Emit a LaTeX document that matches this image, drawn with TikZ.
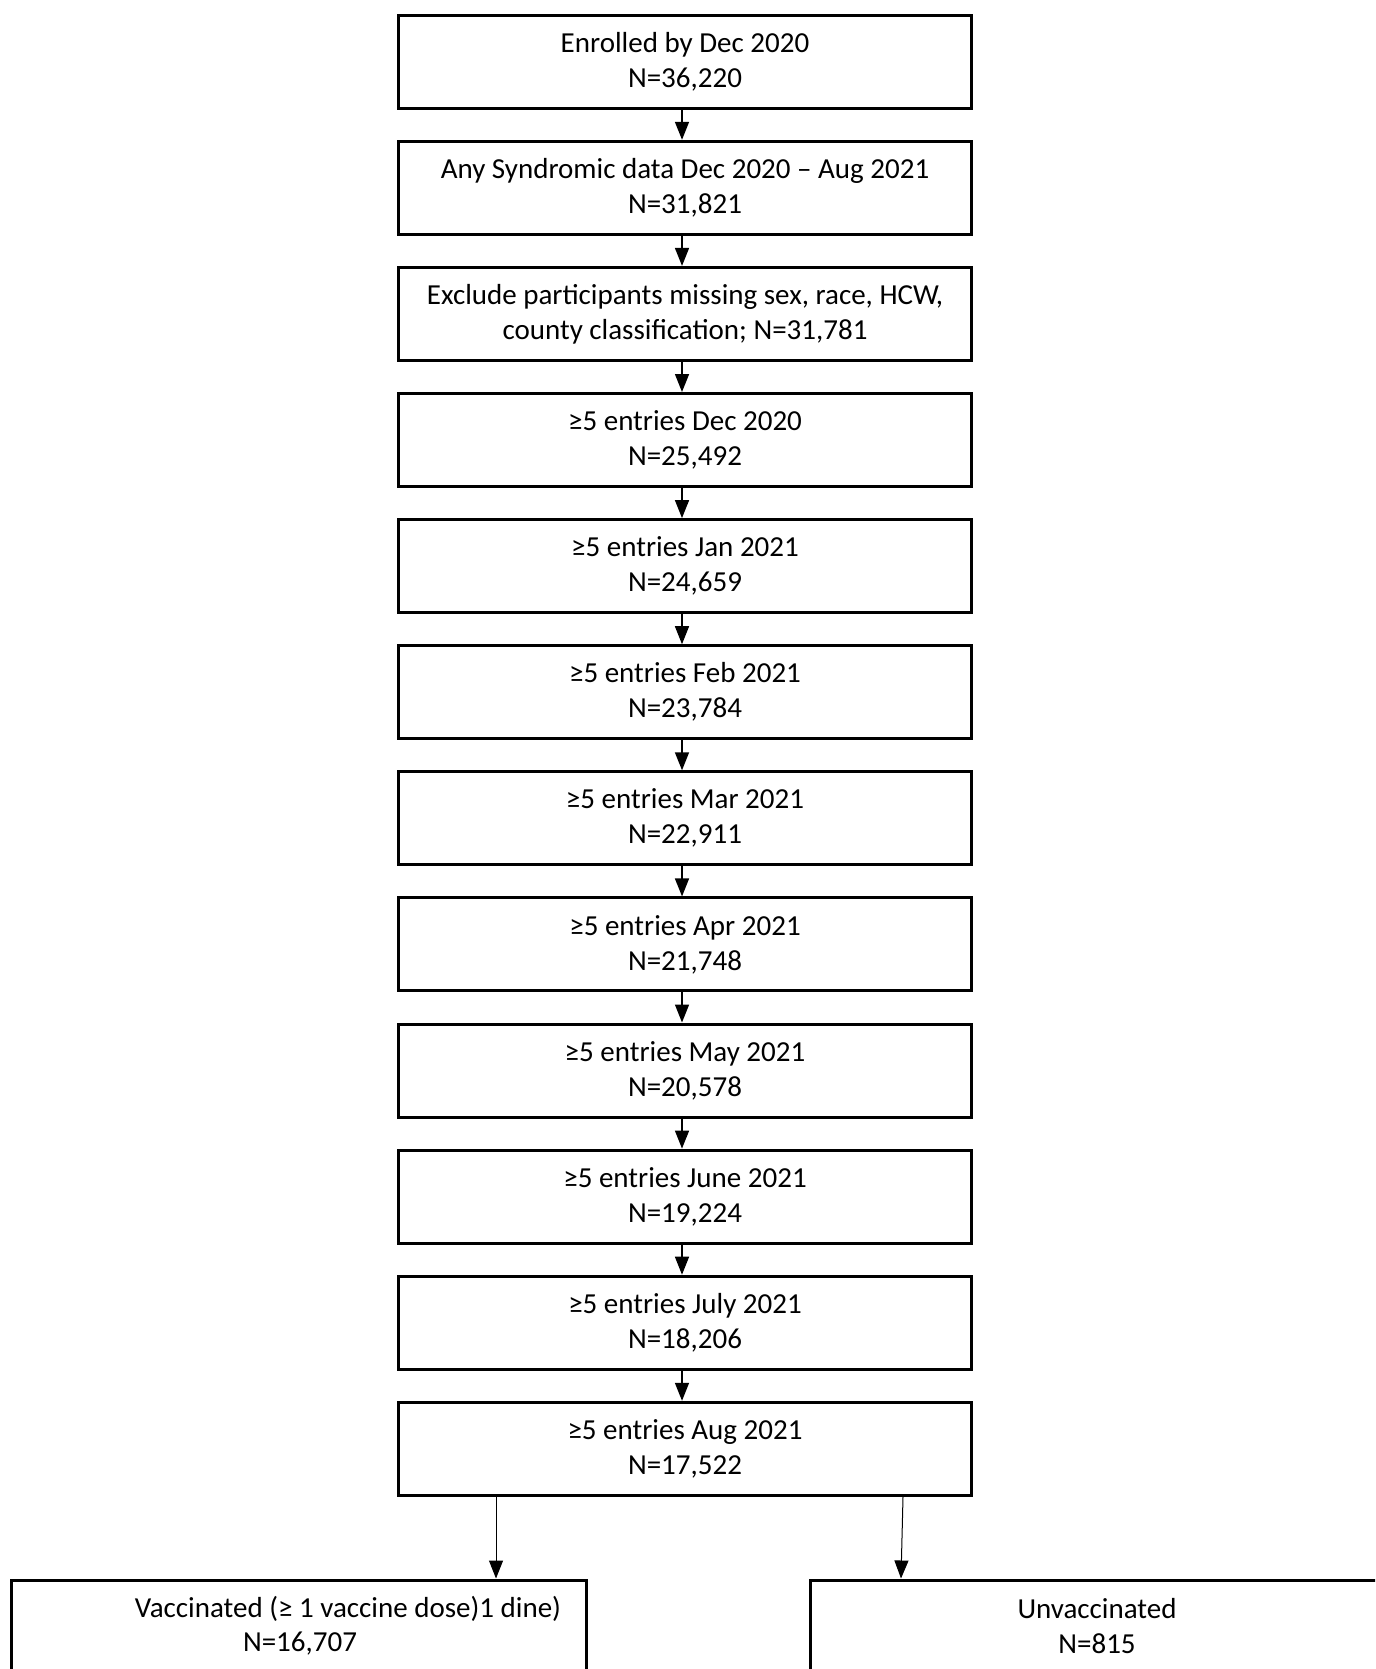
\documentclass[tikz,border=0pt]{standalone}
\usepackage{fontspec}
\setmainfont{Carlito}
\usetikzlibrary{arrows.meta}
\begin{document}
\begin{tikzpicture}[x=0.5pt,y=-0.5pt,
  box/.style={draw=black,line width=1.5pt,minimum width=286.5pt,minimum height=46.5pt,inner sep=0pt,align=center,font=\fontsize{14.5}{17.5}\selectfont},
  bigbox/.style={draw=black,line width=1.5pt,minimum height=100pt,inner sep=0pt},
  txt/.style={inner sep=0pt,font=\fontsize{14.5}{17.5}\selectfont},
  arr/.style={-{Triangle[width=7pt,length=9pt]},line width=0.75pt},
  arrthin/.style={-{Triangle[width=7pt,length=9pt]},line width=0.5pt,draw=black!70,color=black}]
\useasboundingbox (0,0) rectangle (1375,1669);
\clip (0,0) rectangle (1375,1669);
\node[box] (b1) at (685,61.7) {Enrolled by Dec 2020\\N=36,220};
\node[box] (b2) at (685,187.8) {Any Syndromic data Dec 2020 – Aug 2021\\N=31,821};
\node[box] (b3) at (685,313.9) {Exclude participants missing sex, race, HCW,\\county classification; N=31,781};
\node[box] (b4) at (685,440.0) {≥5 entries Dec 2020\\N=25,492};
\node[box] (b5) at (685,566.1) {≥5 entries Jan 2021\\N=24,659};
\node[box] (b6) at (685,692.2) {≥5 entries Feb 2021\\N=23,784};
\node[box] (b7) at (685,818.3) {≥5 entries Mar 2021\\N=22,911};
\node[box] (b8) at (685,944.4) {≥5 entries Apr 2021\\N=21,748};
\node[box] (b9) at (685,1070.5) {≥5 entries May 2021\\N=20,578};
\node[box] (b10) at (685,1196.6) {≥5 entries June 2021\\N=19,224};
\node[box] (b11) at (685,1322.7) {≥5 entries July 2021\\N=18,206};
\node[box] (b12) at (685,1448.8) {≥5 entries Aug 2021\\N=17,522};
\foreach \i [evaluate=\i as \j using int(\i+1)] in {1,...,11}
  \draw[arr] ([xshift=-1.5pt]b\i.south) -- ([xshift=-1.5pt]b\j.north);
\node[bigbox,minimum width=575pt*0.5*2/2] (vac) at (299,1680) {};
\node[bigbox,minimum width=295pt] (unv) at (1105,1680) {};
\node[txt] (vt1) at (348,1609) {Vaccinated (≥ 1 vaccine dose)1 dine)};
\node[txt] (vt2) at (300,1644) {N=16,707};
\node[txt] (ut1) at (1097,1609) {Unvaccinated};
\node[txt] (ut2) at (1097,1644) {N=815};
\coordinate (la) at (496,0);
\coordinate (ra1) at (903,0);
\coordinate (ra2) at (901,0);
\draw[arrthin] (la |- b12.south) -- (la |- vac.north);
\draw[arrthin] (ra1 |- b12.south) -- (ra2 |- unv.north);
\end{tikzpicture}
\end{document}
